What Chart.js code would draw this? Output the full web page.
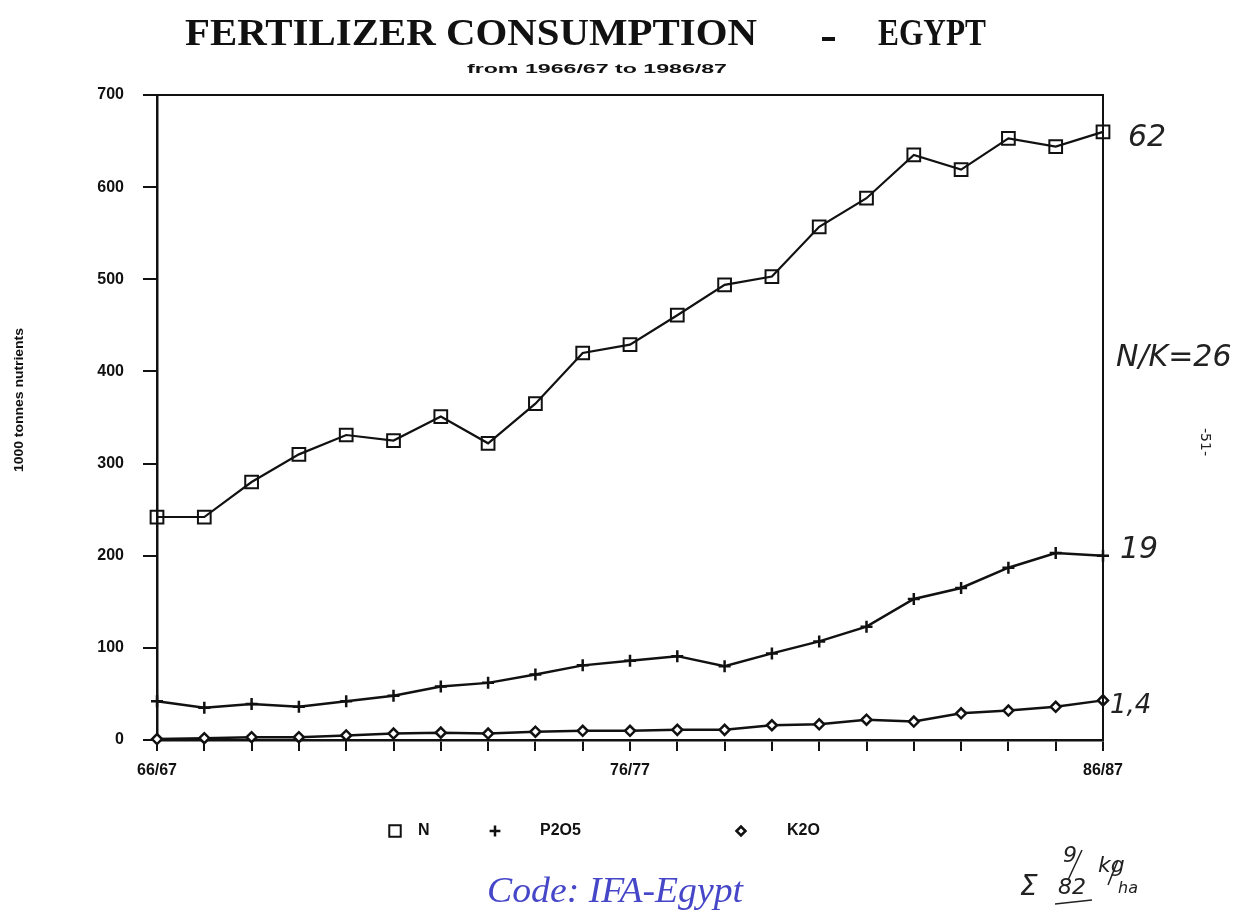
<!DOCTYPE html>
<html><head><meta charset="utf-8">
<script src="https://cdn.jsdelivr.net/npm/chart.js@4.4.0/dist/chart.umd.min.js"></script>
<style>html,body{margin:0;padding:0;background:#fff;}#wrap{position:relative;width:1250px;height:921px;}</style>
</head><body><div id="wrap"><canvas id="c" width="1250" height="921"></canvas></div>
<script>
// ---- data ----
const categories = ['66/67','67/68','68/69','69/70','70/71','71/72','72/73','73/74','74/75','75/76','76/77','77/78','78/79','79/80','80/81','81/82','82/83','83/84','84/85','85/86','86/87'];
const tickLabels = ['66/67','76/77','86/87'];
const nValues    = [242,242,280,310,331,325,351,322,365,420,429,461,494,503,557,588,635,619,653,644,660];
const p2o5Values = [42,35,39,36,42,48,58,62,71,81,86,91,80,94,107,123,153,165,187,203,200];
const k2oValues  = [1,2,3,3,5,7,8,7,9,10,10,11,11,16,17,22,20,29,32,36,43];
const seriesNames = ['N','P2O5','K2O'];
const yTicks = [0,100,200,300,400,500,600,700];
const titleText = 'FERTILIZER CONSUMPTION';
const titleCountry = 'EGYPT';
const subtitleText = 'from 1966/67 to 1986/87';
const yTitle = '1000 tonnes nutrients';
const sourceText = 'Code: IFA-Egypt';

function fitText(ctx, text, x, y, width) {
  const w = ctx.measureText(text).width;
  ctx.save();
  ctx.translate(x, y);
  ctx.scale(width / w, 1);
  ctx.textAlign = 'left';
  ctx.fillText(text, 0, 0);
  ctx.restore();
}

const decor = {
  id: 'decor',
  afterDraw(chart) {
    const ctx = chart.ctx;
    const a = chart.chartArea;
    ctx.save();
    // frame top & right
    ctx.strokeStyle = '#111';
    ctx.lineWidth = 2;
    ctx.beginPath();
    ctx.moveTo(a.left, a.top); ctx.lineTo(a.right, a.top); ctx.lineTo(a.right, a.bottom);
    ctx.stroke();
    // titles
    ctx.fillStyle = '#111';
    ctx.textBaseline = 'alphabetic';
    ctx.font = 'bold 37px "Liberation Serif"';
    fitText(ctx, titleText, 185, 45, 572);
    ctx.fillRect(822, 37, 13, 4);
    fitText(ctx, titleCountry, 878, 45, 108);
    ctx.font = 'bold 13px "Liberation Sans"';
    fitText(ctx, subtitleText, 467, 73, 260);
    // y axis title
    ctx.save();
    ctx.translate(19, 400); ctx.rotate(-Math.PI / 2);
    ctx.font = 'bold 13px "Liberation Sans"';
    ctx.textBaseline = 'middle';
    fitText(ctx, yTitle, -72, 0, 144);
    ctx.restore();
    // legend
    const H = Chart.helpers;
    const ds = chart.data.datasets;
    const legendPos = [[395, 418], [495, 540], [741, 787]];
    ctx.font = 'bold 16px "Liberation Sans"';
    ctx.textBaseline = 'middle';
    ds.forEach((d, i) => {
      ctx.strokeStyle = '#111'; ctx.fillStyle = '#fff';
      ctx.lineWidth = d.pointBorderWidth;
      H.drawPoint(ctx, {pointStyle: d.pointStyle, radius: d.pointRadius * 0.9, rotation: 0, borderWidth: d.pointBorderWidth}, legendPos[i][0], 831);
      ctx.fillStyle = '#111';
      ctx.fillText(seriesNames[i], legendPos[i][1], 831);
    });
    // source line
    ctx.textBaseline = 'alphabetic';
    ctx.fillStyle = '#4646c8';
    ctx.font = 'italic 36px "Liberation Serif"';
    fitText(ctx, sourceText, 487, 902, 256);
    // handwritten notes
    ctx.fillStyle = '#222';
    ctx.font = 'italic 30px "DejaVu Sans"';
    ctx.fillText('62', 1128, 146);
    ctx.fillText('N/K=26', 1116, 366);
    ctx.fillText('19', 1120, 558);
    ctx.font = 'italic 26px "DejaVu Sans"';
    ctx.fillText('1,4', 1110, 713);
    ctx.font = 'italic 28px "DejaVu Sans"';
    ctx.fillText('\u03A3', 1020, 895);
    ctx.font = 'italic 22px "DejaVu Sans"';
    ctx.fillText('9', 1063, 862);
    ctx.fillText('82', 1058, 894);
    ctx.fillText('kg', 1098, 872);
    ctx.font = 'italic 16px "DejaVu Sans"';
    ctx.fillText('ha', 1118, 893);
    ctx.lineWidth = 1.5; ctx.strokeStyle = '#222';
    ctx.beginPath(); ctx.moveTo(1082, 850); ctx.lineTo(1068, 880); ctx.stroke();
    ctx.beginPath(); ctx.moveTo(1118, 860); ctx.lineTo(1108, 885); ctx.stroke();
    ctx.beginPath(); ctx.moveTo(1055, 904); ctx.lineTo(1092, 900); ctx.stroke();
    ctx.save();
    ctx.translate(1205, 442); ctx.rotate(Math.PI / 2);
    ctx.font = '14px "DejaVu Sans"'; ctx.textAlign = 'center'; ctx.textBaseline = 'middle';
    ctx.fillText('-51-', 0, 0);
    ctx.restore();
    ctx.restore();
  }
};

new Chart(document.getElementById('c'), {
  type: 'line',
  data: {
    labels: categories,
    datasets: [
      {label: seriesNames[0], data: nValues, borderColor: '#111', borderWidth: 2.2, pointStyle: 'rect', pointRadius: 9, pointBorderWidth: 2, pointBackgroundColor: 'rgba(255,255,255,0)', pointBorderColor: '#111', tension: 0, clip: false},
      {label: seriesNames[1], data: p2o5Values, borderColor: '#111', borderWidth: 2.5, pointStyle: 'cross', pointRadius: 6, pointBorderWidth: 2.5, pointBorderColor: '#111', tension: 0, clip: false},
      {label: seriesNames[2], data: k2oValues, borderColor: '#111', borderWidth: 2.5, pointStyle: 'rectRot', pointRadius: 5, pointBorderWidth: 2.5, pointBackgroundColor: '#fff', pointBorderColor: '#111', tension: 0, clip: false}
    ]
  },
  options: {
    responsive: false, animation: false, devicePixelRatio: 1,
    layout: {padding: {top: 95, right: 147, left: 0, bottom: 0}},
    plugins: {legend: {display: false}, tooltip: {enabled: false}},
    scales: {
      x: {
        type: 'category', offset: false,
        afterFit: (s) => { s.height = 181; },
        grid: {display: true, drawOnChartArea: false, drawTicks: true, tickLength: 11, color: '#111', lineWidth: 2},
        border: {display: true, color: '#111', width: 2.5},
        ticks: {autoSkip: false, maxRotation: 0, minRotation: 0, padding: 10, color: '#111', font: {family: '"Liberation Sans"', weight: 'bold', size: 16},
          callback: (v, i) => tickLabels.includes(categories[i]) ? categories[i] : ''}
      },
      y: {
        min: yTicks[0], max: yTicks[yTicks.length - 1],
        afterFit: (s) => { s.width = 157; },
        afterBuildTicks: (s) => { s.ticks = yTicks.map(v => ({value: v})); },
        grid: {display: true, drawOnChartArea: false, drawTicks: true, tickLength: 14, color: '#111', lineWidth: 2},
        border: {display: true, color: '#111', width: 2.5},
        ticks: {padding: 19, color: '#111', font: {family: '"Liberation Sans"', weight: 'bold', size: 16}},
        title: {display: false}
      }
    }
  },
  plugins: [decor]
});
</script></body></html>
